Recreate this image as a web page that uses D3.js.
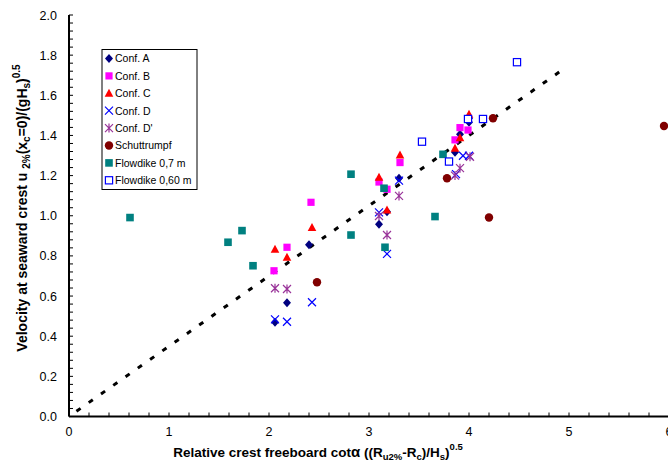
<!DOCTYPE html>
<html><head><meta charset="utf-8">
<script src="https://cdn.jsdelivr.net/npm/d3@7"></script>
<style>body{margin:0;background:#fff;}svg{display:block;font-family:"Liberation Sans",Arial,sans-serif;}</style>
</head><body><svg id="c" width="668" height="464"></svg>
<script>
const confA = [[2.06,0.469],[2.18,0.567],[2.40,0.855],[3.10,0.958],[3.18,1.02],[3.30,1.187],[3.86,1.316],[3.91,1.406],[4.00,1.466],[4.00,1.486]];
const confB = [[2.05,0.726],[2.18,0.843],[2.42,1.067],[3.10,1.168],[3.18,1.132],[3.31,1.265],[3.86,1.378],[3.91,1.439],[3.99,1.427]];
const confC = [[2.06,0.833],[2.18,0.793],[2.43,0.941],[3.10,1.192],[3.18,1.029],[3.31,1.303],[3.86,1.336],[3.91,1.389],[4.00,1.506]];
const confD = [[2.06,0.484],[2.18,0.472],[2.43,0.569],[3.10,1.017],[3.18,0.810],[3.30,1.175],[3.87,1.207],[3.94,1.299],[4.00,1.299]];
const confDp = [[2.06,0.639],[2.18,0.635],[3.10,0.999],[3.18,0.904],[3.30,1.099],[3.86,1.20],[3.91,1.237],[4.01,1.294]];
const schuttrumpf = [[2.48,0.669],[3.78,1.187],[4.20,0.991],[4.24,1.486],[5.95,1.447]];
const flowdike07 = [[0.61,0.991],[1.59,0.868],[1.73,0.926],[1.84,0.751],[2.82,1.207],[2.82,0.904],[3.15,1.137],[3.16,0.843],[3.66,0.996],[3.74,1.306]];
const flowdike060 = [[3.53,1.369],[3.80,1.27],[3.99,1.482],[4.14,1.482],[4.48,1.765]];
const trendX = [0.05, 4.97];
const trendSlope = 0.35;
const xTicks = [0,1,2,3,4,5,6];
const yTicks = [0,0.2,0.4,0.6,0.8,1.0,1.2,1.4,1.6,1.8,2.0];

const svg = d3.select('#c');
const x = d3.scaleLinear().domain([0,6]).range([69,669]);
const y = d3.scaleLinear().domain([0,2]).range([416.5,15]);

// axes lines
svg.append('line').attr('x1',x(0)).attr('x2',x(0)).attr('y1',y(2)).attr('y2',y(0)).attr('stroke','#000').attr('stroke-width',2);
svg.append('line').attr('x1',x(0)).attr('x2',668).attr('y1',y(0)).attr('y2',y(0)).attr('stroke','#000').attr('stroke-width',2);
// y minor ticks inward
d3.range(0,2.0001,0.04).forEach(v=>{
  svg.append('line').attr('x1',x(0)).attr('x2',x(0)+4).attr('y1',y(v)).attr('y2',y(v)).attr('stroke','#000').attr('stroke-width',1);
});
d3.range(0,6.0001,0.2).forEach(v=>{
  svg.append('line').attr('x1',x(v)).attr('x2',x(v)).attr('y1',y(0)).attr('y2',y(0)-4).attr('stroke','#000').attr('stroke-width',1);
});
// tick labels
yTicks.forEach(v=>{
  svg.append('text').attr('x',57).attr('y',y(v)+4.5).attr('text-anchor','end').attr('font-size',12.5).text(d3.format('.1f')(v));
});
xTicks.forEach(v=>{
  svg.append('text').attr('x',x(v)).attr('y',436).attr('text-anchor','middle').attr('font-size',12.5).text(v);
});

// trendline
svg.append('line').attr('x1',x(trendX[0])).attr('y1',y(trendX[0]*trendSlope)).attr('x2',x(trendX[1])).attr('y2',y(trendX[1]*trendSlope))
  .attr('stroke','#000').attr('stroke-width',3).attr('stroke-dasharray','5,10').attr('stroke-dashoffset',-3);

function marker(g, type, cx, cy){
  const s = 4;
  if(type==='diamond') g.append('path').attr('d',`M${cx},${cy-s-0.5}L${cx+s},${cy}L${cx},${cy+s+0.5}L${cx-s},${cy}Z`).attr('fill','#000080');
  else if(type==='square') g.append('rect').attr('x',cx-3.6).attr('y',cy-3.6).attr('width',7.2).attr('height',7.2).attr('fill','#FF00FF');
  else if(type==='triangle') g.append('path').attr('d',`M${cx},${cy-4.5}L${cx+4.3},${cy+3.5}L${cx-4.3},${cy+3.5}Z`).attr('fill','#FF0000');
  else if(type==='x') g.append('path').attr('d',`M${cx-4},${cy-4}L${cx+4},${cy+4}M${cx-4},${cy+4}L${cx+4},${cy-4}`).attr('stroke','#0000FF').attr('stroke-width',1.2).attr('fill','none');
  else if(type==='star') g.append('path').attr('d',`M${cx-4},${cy-4}L${cx+4},${cy+4}M${cx-4},${cy+4}L${cx+4},${cy-4}M${cx},${cy-4.5}L${cx},${cy+4.5}`).attr('stroke','#993399').attr('stroke-width',1.2).attr('fill','none');
  else if(type==='circle') g.append('circle').attr('cx',cx).attr('cy',cy).attr('r',4.2).attr('fill','#800000');
  else if(type==='tealsq') g.append('rect').attr('x',cx-3.8).attr('y',cy-3.8).attr('width',7.6).attr('height',7.6).attr('fill','#008080');
  else if(type==='opensq') g.append('rect').attr('x',cx-3.6).attr('y',cy-3.6).attr('width',7.2).attr('height',7.2).attr('fill','#fff').attr('stroke','#0000FF').attr('stroke-width',1.2);
}
const series = [
  ['Conf. A', confA, 'diamond'],
  ['Conf. B', confB, 'square'],
  ['Conf. C', confC, 'triangle'],
  ['Conf. D', confD, 'x'],
  ["Conf. D'", confDp, 'star'],
  ['Schuttrumpf', schuttrumpf, 'circle'],
  ['Flowdike 0,7 m', flowdike07, 'tealsq'],
  ['Flowdike 0,60 m', flowdike060, 'opensq']
];
const pts = svg.append('g');
series.forEach(([name,data,type])=>{
  data.forEach(d=>marker(pts,type,x(d[0]),y(d[1])));
});

// legend
const lg = svg.append('g');
lg.append('rect').attr('x',102).attr('y',49.5).attr('width',95).attr('height',140).attr('fill','#fff').attr('stroke','#000').attr('stroke-width',1);
series.forEach(([name,data,type],i)=>{
  const yy = 58.5 + i*17.4;
  marker(lg,type,109,yy);
  lg.append('text').attr('x',115).attr('y',yy+3.8).attr('font-size',10.5).text(name);
});

// x title
const xt = svg.append('text').attr('x',318).attr('y',457).attr('text-anchor','middle').attr('font-size',13.5).attr('font-weight','bold');
xt.append('tspan').text('Relative crest freeboard cot');
xt.append('tspan').attr('font-size',15).text('α');
xt.append('tspan').text(' ((R');
xt.append('tspan').attr('font-size',9.5).attr('dy',3).text('u2%');
xt.append('tspan').attr('dy',-3).text('-R');
xt.append('tspan').attr('font-size',9.5).attr('dy',3).text('c');
xt.append('tspan').attr('dy',-3).text(')/H');
xt.append('tspan').attr('font-size',9.5).attr('dy',3).text('s');
xt.append('tspan').attr('dy',-3).text(')');
xt.append('tspan').attr('font-size',9.5).attr('dy',-7).text('0.5');

// y title
const yt = svg.append('text').attr('transform','translate(27,208) rotate(-90)').attr('text-anchor','middle').attr('font-size',14).attr('font-weight','bold');
yt.append('tspan').text('Velocity at seaward crest u ');
yt.append('tspan').attr('font-size',10).attr('dy',3).text('2%');
yt.append('tspan').attr('dy',-3).text('(x');
yt.append('tspan').attr('font-size',10).attr('dy',3).text('c');
yt.append('tspan').attr('dy',-3).text('=0)/(gH');
yt.append('tspan').attr('font-size',10).attr('dy',3).text('s');
yt.append('tspan').attr('dy',-3).text(')');
yt.append('tspan').attr('font-size',10).attr('dy',-7).text('0.5');
</script></body></html>
